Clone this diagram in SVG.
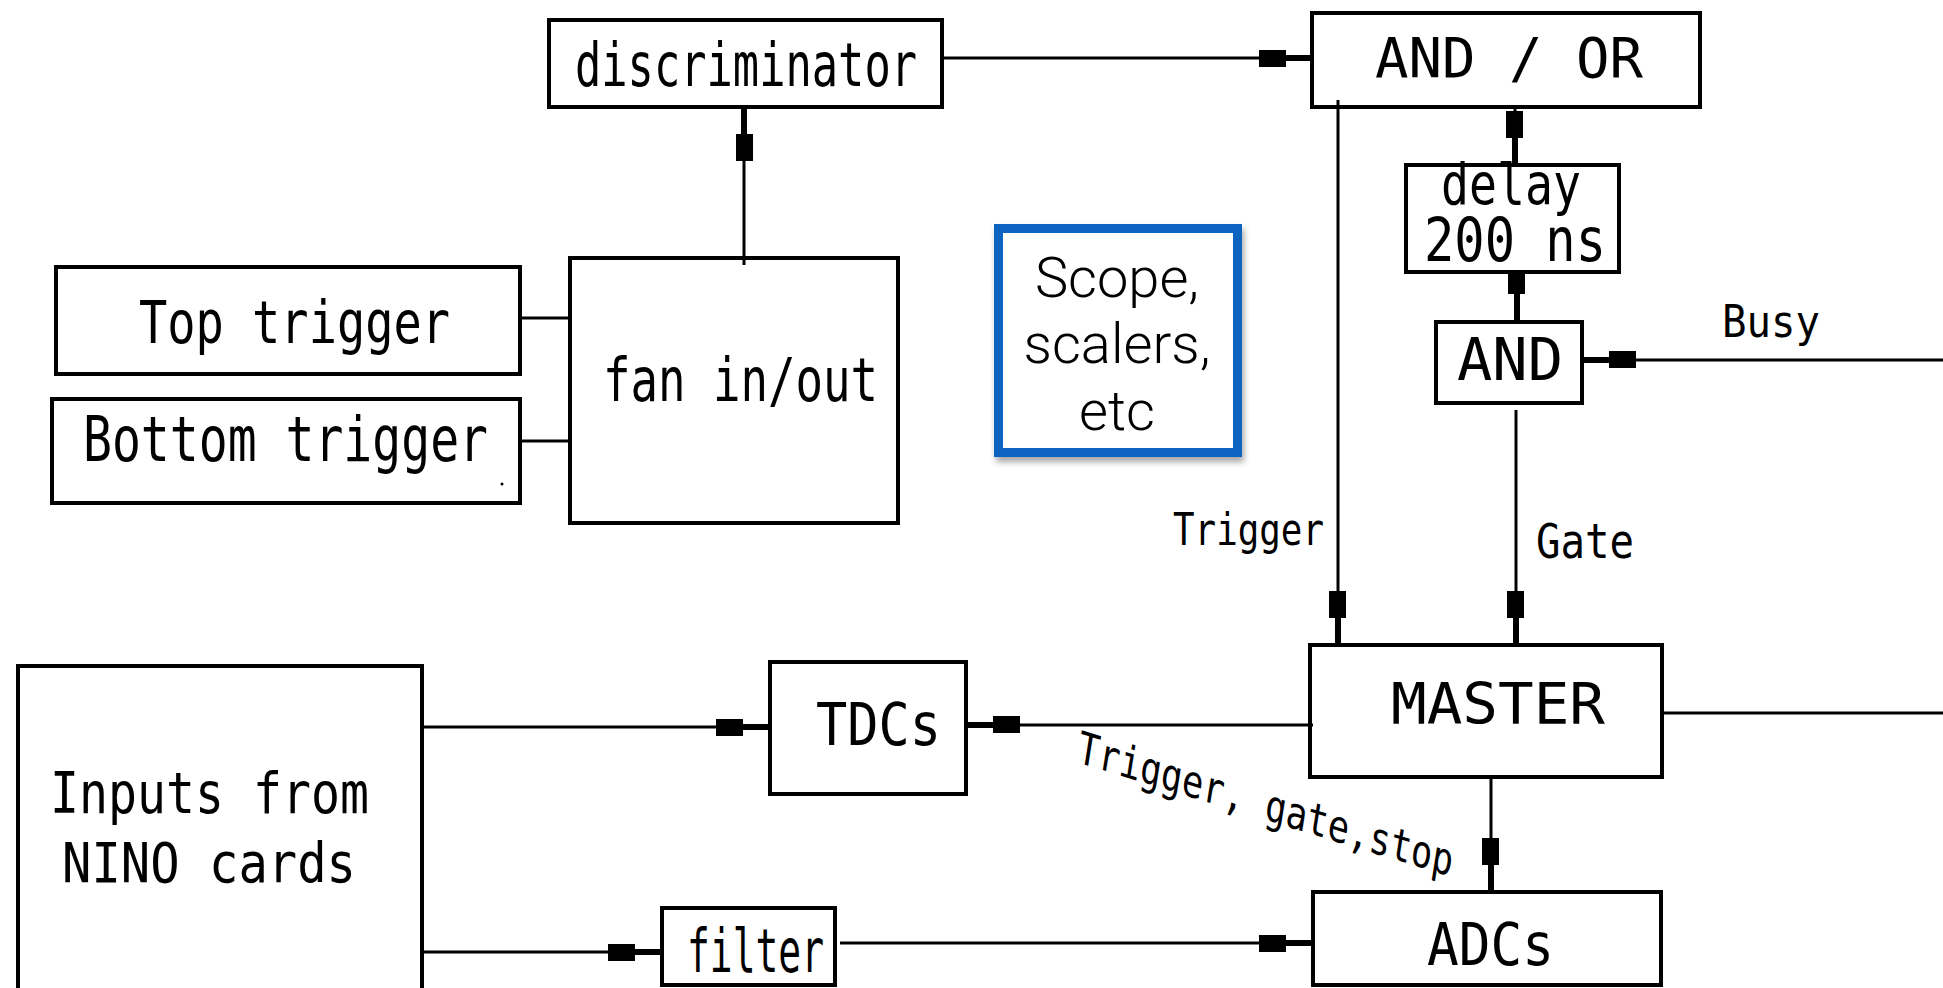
<svg xmlns="http://www.w3.org/2000/svg" width="1943" height="988" viewBox="0 0 1943 988">
<style>
.box{fill:none;stroke:#000;stroke-width:4}
.ln{fill:none;stroke:#000;stroke-width:3}
.cad{font-family:"DejaVu Sans Mono","Liberation Mono",monospace;fill:#000}
.sc{font-family:Roboto,"Liberation Sans",sans-serif;font-weight:300;fill:#000;text-anchor:middle}
</style>
<defs>
<marker id="arr" markerUnits="userSpaceOnUse" markerWidth="60" markerHeight="20" viewBox="-56 -10 58 20" refX="0" refY="0" orient="auto">
<rect x="-28" y="-3" width="28" height="6" fill="#000"/>
<rect x="-54" y="-8" width="27" height="17" fill="#000"/>
</marker>
<marker id="arrS" markerUnits="userSpaceOnUse" markerWidth="60" markerHeight="20" viewBox="-56 -10 58 20" refX="0" refY="0" orient="auto">
<rect x="-29" y="-3" width="29" height="6" fill="#000"/>
<rect x="-49" y="-8" width="21" height="17" fill="#000"/>
</marker>
<filter id="sh" x="-10%" y="-10%" width="130%" height="130%">
<feDropShadow dx="2" dy="5" stdDeviation="3" flood-color="#000" flood-opacity="0.35"/>
</filter>
</defs>
<rect width="1943" height="988" fill="#fff"/>

<g id="connectors">
<path class="ln" d="M744,265 V107" marker-end="url(#arr)"/>
<path class="ln" d="M942,58 H1313" marker-end="url(#arr)"/>
<path class="ln" d="M1515,105 V165" marker-end="url(#arr)"/>
<path class="ln" d="M1517,272 V322" marker-end="url(#arrS)"/>
<path class="ln" d="M1943,360 H1582" marker-end="url(#arr)"/>
<path class="ln" d="M1338,100 V645" marker-end="url(#arr)"/>
<path class="ln" d="M1516,410 V645" marker-end="url(#arr)"/>
<path class="ln" d="M1662,713 H1943"/>
<path class="ln" d="M1313,725 H966" marker-end="url(#arr)"/>
<path class="ln" d="M1491,777 V892" marker-end="url(#arr)"/>
<path class="ln" d="M422,727 H770" marker-end="url(#arr)"/>
<path class="ln" d="M422,952 H662" marker-end="url(#arr)"/>
<path class="ln" d="M840,943 H1313" marker-end="url(#arr)"/>
<path class="ln" d="M520,318 H570"/>
<path class="ln" d="M520,441 H570"/>
</g>

<g id="discriminator">
<rect class="box" x="549" y="20" width="393" height="87"/>
<text class="cad" x="575" y="86" font-size="60" textLength="342" lengthAdjust="spacingAndGlyphs">discriminator</text>
</g>
<g id="top-trigger">
<rect class="box" x="56" y="267" width="464" height="107"/>
<text class="cad" x="139" y="343" font-size="59" textLength="311" lengthAdjust="spacingAndGlyphs">Top trigger</text>
</g>
<g id="bottom-trigger">
<rect class="box" x="52" y="399" width="468" height="104"/>
<text class="cad" x="83" y="461" font-size="62" textLength="405" lengthAdjust="spacingAndGlyphs">Bottom trigger</text>
<circle cx="502" cy="484" r="1.5" fill="#000"/>
</g>
<g id="fan">
<rect class="box" x="570" y="258" width="328" height="265"/>
<text class="cad" x="603" y="401" font-size="60" textLength="275" lengthAdjust="spacingAndGlyphs">fan in/out</text>
</g>
<g id="and-or">
<rect class="box" x="1312" y="13" width="388" height="94"/>
<text class="cad" x="1375" y="77" font-size="55" textLength="268" lengthAdjust="spacingAndGlyphs">AND / OR</text>
</g>
<g id="delay">
<rect class="box" x="1406" y="165" width="213" height="107"/>
<text class="cad" x="1441" y="204" font-size="57" textLength="140" lengthAdjust="spacingAndGlyphs">delay</text>
<text class="cad" x="1424" y="261" font-size="60" textLength="182" lengthAdjust="spacingAndGlyphs">200 ns</text>
</g>
<g id="and">
<rect class="box" x="1436" y="322" width="146" height="81"/>
<text class="cad" x="1457" y="380" font-size="58" textLength="106" lengthAdjust="spacingAndGlyphs">AND</text>
</g>
<g id="scope">
<rect x="998.5" y="228.5" width="239" height="224" fill="#fff" stroke="#0B63C0" stroke-width="9" filter="url(#sh)"/>
<text class="sc" x="1117" y="297" font-size="56">Scope,</text>
<text class="sc" x="1117" y="363" font-size="56">scalers,</text>
<text class="sc" x="1117" y="430" font-size="56">etc</text>
</g>
<g id="master">
<rect class="box" x="1310" y="645" width="352" height="132"/>
<text class="cad" x="1391" y="724" font-size="57" textLength="214" lengthAdjust="spacingAndGlyphs">MASTER</text>
</g>
<g id="tdcs">
<rect class="box" x="770" y="662" width="196" height="132"/>
<text class="cad" x="816" y="745" font-size="59" textLength="125" lengthAdjust="spacingAndGlyphs">TDCs</text>
</g>
<g id="inputs">
<path class="box" d="M18,1000 V666 H422 V1000"/>
<text class="cad" x="50" y="813" font-size="57" textLength="319" lengthAdjust="spacingAndGlyphs">Inputs from</text>
<text class="cad" x="62" y="882" font-size="55" textLength="294" lengthAdjust="spacingAndGlyphs">NINO cards</text>
</g>
<g id="filter">
<rect class="box" x="662" y="908" width="173" height="77"/>
<text class="cad" x="687" y="972" font-size="60" textLength="137" lengthAdjust="spacingAndGlyphs">filter</text>
</g>
<g id="adcs">
<rect class="box" x="1313" y="892" width="348" height="93"/>
<text class="cad" x="1427" y="965" font-size="59" textLength="127" lengthAdjust="spacingAndGlyphs">ADCs</text>
</g>
<g id="labels">
<text class="cad" x="1722" y="337" font-size="45" textLength="98" lengthAdjust="spacingAndGlyphs">Busy</text>
<text class="cad" x="1173" y="545" font-size="45" textLength="151" lengthAdjust="spacingAndGlyphs">Trigger</text>
<text class="cad" x="1536" y="558" font-size="48" textLength="98" lengthAdjust="spacingAndGlyphs">Gate</text>
<text class="cad" transform="translate(1076,762) rotate(17) skewX(8)" font-size="44" textLength="392" lengthAdjust="spacingAndGlyphs">Trigger, gate,stop</text>
</g>
</svg>
